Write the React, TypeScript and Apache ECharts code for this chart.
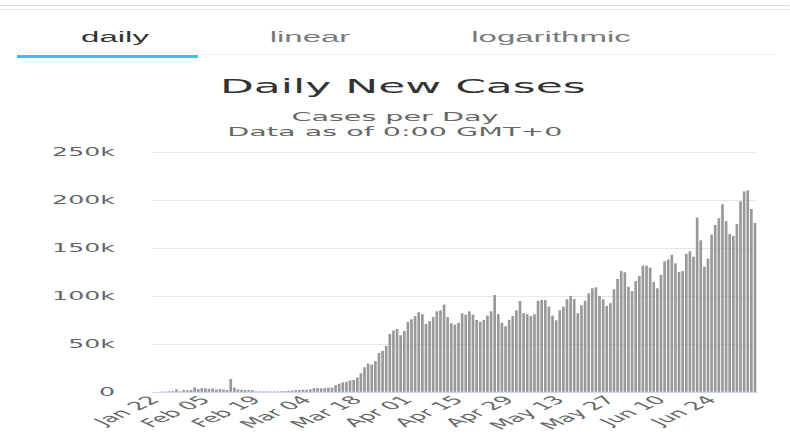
import React, { useEffect, useRef } from "react";
import * as echarts from "echarts";

// ---- data ----
const START_DATE = "2020-01-22";
const MONTHS = ["Jan", "Feb", "Mar", "Apr", "May", "Jun", "Jul", "Aug", "Sep", "Oct", "Nov", "Dec"];

const janFeb = [
  0, 100, 290, 490, 680, 810, 2650, 590, 2070, 1690, 2110,
  4750, 3100, 4010, 3740, 3160, 3420, 2610, 2820, 2480, 2030,
  13500, 4500, 2600, 2100, 2000, 1900, 1800,
  500, 550, 600, 600, 500, 450, 600, 700, 800, 1200, 1500,
];
const march = [
  1800, 1900, 2300, 2200, 2700, 3900, 3900, 3700, 3900, 4400,
  4500, 7000, 8500, 10000, 10500, 12000, 12500, 15000, 19500, 25700,
  29500, 28500, 32000, 40600, 42700, 48000, 60400, 63900, 65600, 59000, 63500,
];
const april = [
  73000, 75700, 79000, 83000, 81000, 70800, 73600, 78000, 84000, 85000,
  91000, 78000, 71500, 70000, 72000, 82000, 80500, 84000, 80500, 75000,
  73000, 75000, 79500, 84000, 101000, 81000, 72000, 68400, 75000, 79000,
];
const may = [
  85000, 94800, 82000, 81000, 79000, 81000, 95000, 95800, 95800, 88900,
  79500, 74700, 85000, 88900, 96500, 100000, 96800, 82000, 90300, 95000,
  102800, 108000, 109000, 100000, 96500, 89600, 92400, 107000, 117700, 126000, 124700,
];
const june = [
  109700, 105000, 115600, 120800, 131600, 131600, 129500, 114600, 108000, 121900,
  136000, 138000, 143000, 134000, 125000, 126000, 144000, 146500, 141000, 181600,
  158000, 130500, 139000, 164000, 174000, 181000, 195500, 178000, 164600, 162500,
];
const july = [175000, 198600, 209000, 210000, 190600, 176000];

const dailyCases = [...janFeb, ...march, ...april, ...may, ...june, ...july];

const yTicks = [0, 50000, 100000, 150000, 200000, 250000];
const tabs = ["daily", "linear", "logarithmic"];

function buildCategories(n: number): string[] {
  const out: string[] = [];
  const d = new Date(START_DATE + "T00:00:00Z");
  for (let i = 0; i < n; i++) {
    const day = d.getUTCDate();
    out.push(MONTHS[d.getUTCMonth()] + " " + (day < 10 ? "0" + day : String(day)));
    d.setUTCDate(d.getUTCDate() + 1);
  }
  return out;
}
const categories = buildCategories(dailyCases.length);

// ---- layout: the reference is horizontally stretched ----
const S = 2.2;
const W = 790;
const H = 434;
const NW = W / S;
const sx = (x: number) => x / S;

export default function App() {
  const ref = useRef<HTMLDivElement>(null);
  useEffect(() => {
    if (!ref.current) return;
    const chart = echarts.init(ref.current, undefined, { renderer: "svg" });
    const font = "DejaVu Sans, Verdana, sans-serif";
    chart.setOption({
      animation: false,
      backgroundColor: "#ffffff",
      title: [
        {
          text: "Daily New Cases",
          left: sx(220) - 5,
          top: 71,
          textStyle: { fontFamily: font, fontSize: 20, fontWeight: "normal", color: "#333333" },
        },
        {
          text: "Cases per Day\nData as of 0:00 GMT+0",
          left: "center",
          top: 104,
          textStyle: { fontFamily: font, fontSize: 13, fontWeight: "normal", color: "#666666", lineHeight: 15, align: "center" },
        },
      ],
      graphic: [
        { type: "rect", shape: { x: 0, y: 5, width: NW, height: 1 }, style: { fill: "#dddddd" } },
        { type: "rect", shape: { x: 0, y: 9, width: NW, height: 1 }, style: { fill: "#e6e6e6" } },
        { type: "rect", shape: { x: sx(198), y: 54, width: sx(775) - sx(198), height: 1 }, style: { fill: "#eeeeee" } },
        { type: "rect", shape: { x: sx(17), y: 55, width: sx(198) - sx(17), height: 3 }, style: { fill: "#37c3ef" } },
        ...tabs.map((t, i) => ({
          type: "text",
          x: sx([115, 310, 551][i]),
          y: 37,
          style: {
            text: t,
            fontFamily: "Liberation Sans, Arial, sans-serif",
            fontSize: 15,
            fontWeight: 500,
            fill: i === 0 ? "#333333" : "#7a7a7a",
            align: "center",
            verticalAlign: "middle",
          },
        })),
      ],
      grid: { left: sx(153), right: NW - sx(757), top: 152, bottom: H - 392, containLabel: false },
      xAxis: {
        type: "category",
        data: categories,
        axisLine: { show: true, lineStyle: { color: "#ccd6eb", width: 1 } },
        axisTick: { show: false },
        axisLabel: {
          interval: 13,
          rotate: 45,
          margin: 6,
          fontFamily: font,
          fontSize: 11.5,
          color: "#666666",
        },
        splitLine: { show: false },
      },
      yAxis: {
        type: "value",
        min: 0,
        max: yTicks[yTicks.length - 1],
        interval: 50000,
        axisLine: { show: false },
        axisTick: { show: false },
        splitLine: { lineStyle: { color: "#e6e6e6", width: 1 } },
        axisLabel: {
          margin: sx(38),
          fontFamily: font,
          fontSize: 11.5,
          color: "#666666",
          formatter: (v: number) => (v === 0 ? "0" : v / 1000 + "k"),
        },
      },
      series: [
        {
          type: "bar",
          name: "Daily Cases",
          data: dailyCases,
          barCategoryGap: "26%",
          itemStyle: { color: "#999999" },
        },
      ],
    });
    return () => chart.dispose();
  }, []);
  return (
    <div style={{ position: "fixed", left: 0, top: 0, width: W, height: H, overflow: "hidden", background: "#fff" }}>
      <div
        ref={ref}
        style={{
          position: "absolute",
          left: 0,
          top: 0,
          width: NW,
          height: H,
          transform: `scaleX(${S})`,
          transformOrigin: "0 0",
        }}
      />
    </div>
  );
}
